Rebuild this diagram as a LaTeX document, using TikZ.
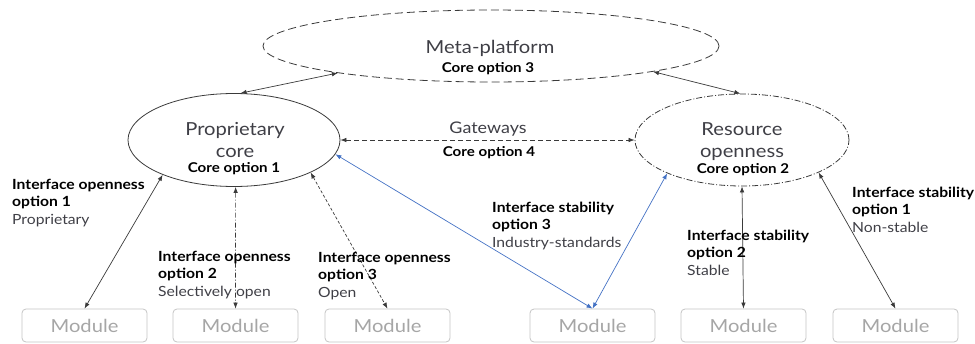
\documentclass[tikz,border=0pt]{standalone}
\usepackage{fontspec}
\setmainfont{Lato}[FakeStretch=1.12, BoldFeatures={FakeStretch=1.12}]
\usetikzlibrary{arrows.meta,shapes.geometric}
\definecolor{txtgray}{HTML}{3F3F46}
\definecolor{linegray}{HTML}{3A3A3A}
\definecolor{modgray}{HTML}{A6A6A6}
\definecolor{modedge}{HTML}{C4C4C4}
\definecolor{stdblue}{HTML}{4472C4}
\tikzset{
  core/.style={ellipse, draw=linegray, line width=0.8pt, inner sep=0pt},
  title/.style={font=\fontsize{18}{20}\selectfont, text=txtgray, inner sep=0pt, anchor=base},
  coreopt/.style={font=\fontsize{13.5}{15}\selectfont\bfseries, text=black, inner sep=0pt, anchor=base},
  lbold/.style={font=\fontsize{14}{16}\selectfont\bfseries, text=black, inner sep=0pt, anchor=base west},
  lplain/.style={font=\fontsize{14}{16}\selectfont, text=txtgray, inner sep=0pt, anchor=base west},
  module/.style={draw=modedge, line width=0.8pt, rounded corners=4pt, minimum width=125pt,
    minimum height=33pt, inner sep=0pt, text=modgray, font=\fontsize{18}{20}\selectfont},
  tip/.tip={Latex[length=6pt,width=4.5pt]},
  link/.style={draw=linegray, line width=0.7pt, tip-tip},
}
\begin{document}
\begin{tikzpicture}[x=1pt,y=-1pt]
\useasboundingbox (0,0) rectangle (975,343);

% the three cores
\node[core, dash pattern=on 8pt off 4pt, minimum width=456pt, minimum height=72pt] (meta) at (491,46) {};
\node[core, minimum width=212pt, minimum height=93pt] (prop) at (234,140) {};
\node[core, dash pattern=on 6pt off 2pt on 1pt off 2pt, minimum width=214pt, minimum height=92pt] (res) at (742,140) {};

\node[title] (metaT) at (490,53) {Meta-platform};
\node[coreopt] (metaO) at (488,72) {Core option 3};
\node[title] (propT1) at (235,135) {Proprietary};
\node[title] (propT2) at (235,157) {core};
\node[coreopt] (propO) at (234,172) {Core option 1};
\node[title] (resT1) at (742,135) {Resource};
\node[title] (resT2) at (742,157) {openness};
\node[coreopt] (resO) at (743,173) {Core option 2};
\node[title, font=\fontsize{16}{18}\selectfont] (gwT) at (488,133) {Gateways};
\node[coreopt] (gwO) at (489,156) {Core option 4};

% modules
\node[module] (m1) at (84.5,325.5) {Module};
\node[module] (m2) at (235.5,325.5) {Module};
\node[module] (m3) at (387.5,325.5) {Module};
\node[module] (m4) at (592.5,325.5) {Module};
\node[module] (m5) at (743.5,325.5) {Module};
\node[module] (m6) at (895.5,325.5) {Module};

% links between the cores
\draw[link] (prop.82) -- (meta.-170.7);
\draw[link] (meta.-9.3) -- (res.92.5);
\draw[link, dash pattern=on 5pt off 3pt] (prop.east) -- (res.west);

% interface links
\draw[link] (prop.-154.7) -- (m1.north);
\draw[link, dash pattern=on 5pt off 2pt on 1pt off 2pt] (prop.-88) -- (m2.north);
\draw[link, dash pattern=on 3pt off 2pt] (prop.-23.3) -- (m3.north);
\draw[link, draw=stdblue] (prop.-8) -- (m4.north);
\draw[link, draw=stdblue] (res.-156.5) -- (m4.north);
\draw[link] (res.south) -- (m5.north);
\draw[link] (res.-23.6) -- (m6.north);

% interface labels
\node[lbold] (io1a) at (12,189) {Interface openness};
\node[lbold] (io1b) at (12,206.5) {option 1};
\node[lplain] (io1c) at (12,224) {Proprietary};

\node[lbold] (io2a) at (158,261) {Interface openness};
\node[lbold] (io2b) at (158,278.5) {option 2};
\node[lplain] (io2c) at (158,296) {Selectively open};

\node[lbold] (io3a) at (318,262) {Interface openness};
\node[lbold] (io3b) at (318,279.5) {option 3};
\node[lplain] (io3c) at (318,297) {Open};

\node[lbold] (is3a) at (492,212) {Interface stability};
\node[lbold] (is3b) at (492,229.5) {option 3};
\node[lplain] (is3c) at (492,247) {Industry-standards};

\node[lbold] (is2a) at (687,240) {Interface stability};
\node[lbold] (is2b) at (687,257.5) {option 2};
\node[lplain] (is2c) at (687,275) {Stable};

\node[lbold] (is1a) at (852,197) {Interface stability};
\node[lbold] (is1b) at (852,214.5) {option 1};
\node[lplain] (is1c) at (852,232) {Non-stable};
\end{tikzpicture}
\end{document}
